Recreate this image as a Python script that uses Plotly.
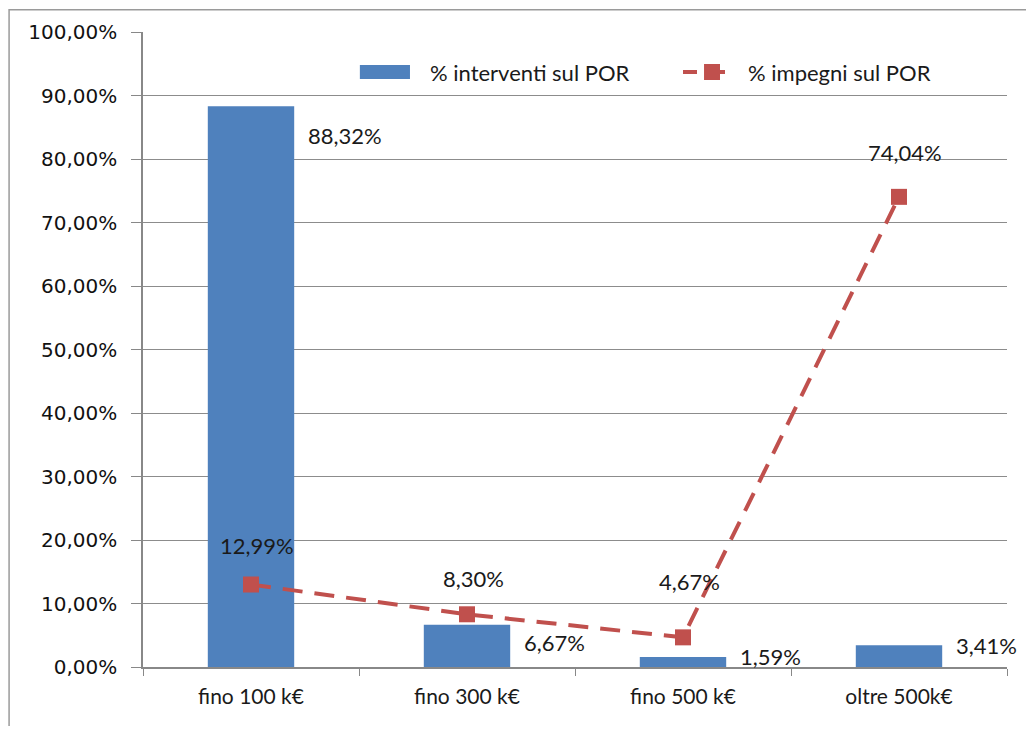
import plotly.graph_objects as go

# data
categories = ["fino 100 k€", "fino 300 k€", "fino 500 k€", "oltre 500k€"]
interventi = [0.8832, 0.0667, 0.0159, 0.0341]
impegni = [0.1299, 0.0830, 0.0467, 0.7404]
y_ticks = [0, 0.1, 0.2, 0.3, 0.4, 0.5, 0.6, 0.7, 0.8, 0.9, 1.0]
names = ["% interventi sul POR", "% impegni sul POR"]

BLUE = "#4F81BD"
RED = "#C0504D"
TEXT = "#1a1a1a"
FONT = "Lato, Open Sans, sans-serif"


def pct(v):
    return f"{v * 100:.2f}%".replace(".", ",")


label_font = dict(family=FONT, size=22, color=TEXT)

fig = go.Figure()
fig.add_trace(go.Bar(
    x=categories, y=interventi, name=names[0],
    marker=dict(color=BLUE, line=dict(width=0)), width=0.4,
))
fig.add_trace(go.Scatter(
    x=categories, y=impegni, name=names[1], mode="lines+markers",
    line=dict(color=RED, width=4, dash="20px,12px"),
    marker=dict(symbol="square", size=16, color=RED),
))

# bar labels sit right of the bar top
bar_shift = [-29, -18, 0, 0]
for cat, v, dy in zip(categories, interventi, bar_shift):
    fig.add_annotation(x=cat, y=v, text=pct(v), showarrow=False, xanchor="left",
                       xshift=55, yshift=dy, font=label_font)

# line labels above the markers
line_shift = [39, 36, 56, 44]
for cat, v, dy in zip(categories, impegni, line_shift):
    fig.add_annotation(x=cat, y=v, text=pct(v), showarrow=False, xshift=6,
                       yshift=dy, font=label_font)

# hand-drawn legend (wide bar swatch like the original)
fig.add_shape(type="rect", xref="paper", yref="paper", x0=0.251, x1=0.309, y0=0.926, y1=0.948,
              fillcolor=BLUE, line=dict(width=0))
fig.add_annotation(xref="paper", yref="paper", x=0.330, y=0.937, text=names[0], showarrow=False,
                   xanchor="left", yanchor="middle", font=label_font)
fig.add_shape(type="line", xref="paper", yref="paper", x0=0.625, x1=0.674, y0=0.937, y1=0.937,
              line=dict(color=RED, width=4, dash="14px,14px"))
fig.add_shape(type="rect", xref="paper", yref="paper", xsizemode="pixel", ysizemode="pixel",
              xanchor=0.6586, yanchor=0.937, x0=-8, x1=8, y0=-8, y1=8,
              fillcolor=RED, line=dict(width=0))
fig.add_annotation(xref="paper", yref="paper", x=0.698, y=0.937, text=names[1], showarrow=False,
                   xanchor="left", yanchor="middle", font=label_font)

# outer chart frame: only the left and top edges are visible in the original
fig.add_shape(type="path", xref="paper", yref="paper",
              path="M -0.155,-0.3 L -0.155,1.035 L 1.2,1.035",
              line=dict(color="#9a9a9a", width=1.5), layer="below")

fig.update_layout(
    width=1018, height=718,
    margin=dict(l=135, r=19, t=24, b=59),
    paper_bgcolor="white", plot_bgcolor="white",
    separators=",.",
    showlegend=False,
    xaxis=dict(type="category", range=[-0.5, 3.5], tickson="boundaries", ticks="outside", ticklen=7,
               tickcolor="#888", showline=True, linecolor="#888", linewidth=1.5,
               showgrid=False, ticklabelstandoff=10,
               tickfont=dict(family=FONT, size=21, color=TEXT)),
    yaxis=dict(range=[0, 1.0], tickvals=y_ticks, tickformat=".2%", ticks="outside",
               ticklen=10, tickcolor="#888", showline=True, linecolor="#888", linewidth=1.5,
               showgrid=True, gridcolor="#8c8c8c", gridwidth=1, zeroline=False,
               ticklabelstandoff=10,
               tickfont=dict(family="DejaVu Sans, Verdana, sans-serif", size=20, color="#111")),
)

fig.write_html("out.html")
